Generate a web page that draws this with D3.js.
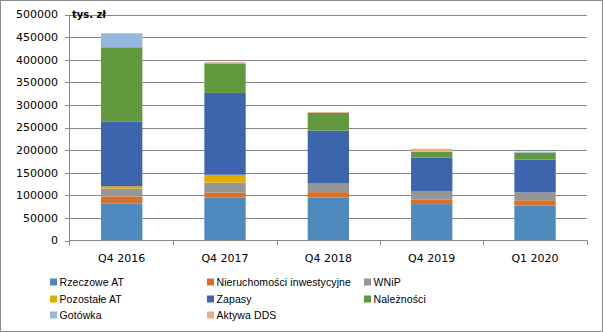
<!DOCTYPE html>
<html>
<head>
<meta charset="utf-8">
<script src="https://cdn.jsdelivr.net/npm/d3@7"></script>
<style>
  html, body { margin: 0; padding: 0; background: #fff; }
  svg { display: block; font-family: "DejaVu Sans", Verdana, sans-serif; }
</style>
</head>
<body>
<svg id="chart" width="603" height="332"></svg>
<script>
// kategorie (okresy) i serie danych, tys. zł
const periods = ['Q4 2016', 'Q4 2017', 'Q4 2018', 'Q4 2019', 'Q1 2020'];
const seriesNames = ['Rzeczowe AT', 'Nieruchomości inwestycyjne', 'WNiP', 'Pozostałe AT',
  'Zapasy', 'Należności', 'Gotówka', 'Aktywa DDS'];
const rzeczoweAT   = [82000, 95000, 95000, 80500, 77000];
const nieruchomosci = [15500, 11000, 12000, 10500, 12000];
const wnip         = [17500, 22000, 19000, 17500, 17500];
const pozostaleAT  = [5000, 17500, 0, 0, 0];
const zapasy       = [142500, 181000, 117000, 75000, 72500];
const naleznosci   = [165000, 64000, 39500, 13000, 15500];
const gotowka      = [31000, 3000, 0, 0, 2000];
const aktywaDDS    = [0, 1500, 2000, 6500, 0];
const yTicks = [0, 50000, 100000, 150000, 200000, 250000, 300000, 350000, 400000, 450000, 500000];

const colors = ['#4f8abe', '#d6702b', '#969696', '#e5ac00', '#3c65ad', '#62993e', '#95b8e0', '#f0a88a'];
const seriesValues = [rzeczoweAT, nieruchomosci, wnip, pozostaleAT, zapasy, naleznosci, gotowka, aktywaDDS];

const rows = periods.map((p, i) => {
  const r = { period: p };
  seriesNames.forEach((n, k) => { r[n] = seriesValues[k][i]; });
  return r;
});

const svg = d3.select('#chart');
const W = 603, H = 332;
const GRID = '#878787';

// ramka wykresu
svg.append('rect').attr('x', 0.5).attr('y', 0.5).attr('width', W - 1).attr('height', H - 1)
  .attr('fill', '#fff').attr('stroke', '#8c8c8c');

const x = d3.scaleBand().domain(periods).range([70, 586.7]).paddingInner(0.6).paddingOuter(0.3);
const y = d3.scaleLinear().domain([0, 500000]).range([240.5, 14.5]);

// siatka
svg.append('g').selectAll('line').data(yTicks.filter(t => t > 0)).join('line')
  .attr('x1', 70).attr('x2', 586.7)
  .attr('y1', d => Math.round(y(d)) + 0.5).attr('y2', d => Math.round(y(d)) + 0.5)
  .attr('stroke', GRID).attr('stroke-width', 1);

// słupki
const stack = d3.stack().keys(seriesNames)(rows);
svg.append('g').selectAll('g').data(stack).join('g')
  .attr('fill', (d, i) => colors[i])
  .selectAll('rect').data(d => d).join('rect')
  .attr('x', d => x(d.data.period))
  .attr('width', x.bandwidth())
  .attr('y', d => y(d[1]))
  .attr('height', d => Math.max(0, y(d[0]) - y(d[1])));

// oś Y
const yAxis = svg.append('g');
yAxis.append('line').attr('x1', 69.5).attr('x2', 69.5).attr('y1', y(500000)).attr('y2', y(0) + 5)
  .attr('stroke', GRID);
yAxis.selectAll('line.tick').data(yTicks).join('line').attr('class', 'tick')
  .attr('x1', 65).attr('x2', 70)
  .attr('y1', d => Math.round(y(d)) + 0.5).attr('y2', d => Math.round(y(d)) + 0.5)
  .attr('stroke', GRID);
yAxis.selectAll('text').data(yTicks).join('text')
  .attr('x', 58).attr('y', d => y(d)).attr('dy', '0.36em')
  .attr('text-anchor', 'end').attr('font-size', 11).attr('fill', '#000')
  .text(d => d);

// oś X
const xAxis = svg.append('g');
xAxis.append('line').attr('x1', 69.5).attr('x2', 587).attr('y1', 240.5).attr('y2', 240.5).attr('stroke', GRID);
xAxis.selectAll('line.tick').data(periods).join('line').attr('class', 'tick')
  .attr('x1', p => Math.round(x(p) + x.bandwidth() / 2 + x.step() / 2) + 0.5)
  .attr('x2', p => Math.round(x(p) + x.bandwidth() / 2 + x.step() / 2) + 0.5)
  .attr('y1', 240.5).attr('y2', 245).attr('stroke', GRID);
xAxis.selectAll('text').data(periods).join('text')
  .attr('x', p => x(p) + x.bandwidth() / 2).attr('y', 262)
  .attr('text-anchor', 'middle').attr('font-size', 11).attr('fill', '#000')
  .text(p => p);

// jednostka
svg.append('text').attr('x', 72).attr('y', 18).attr('font-size', 10).attr('font-weight', 'bold')
  .text('tys. zł');

// legenda
const colX = [50, 207, 364];
const rowY = [282, 299, 315];
const leg = svg.append('g').selectAll('g').data(seriesNames).join('g')
  .attr('transform', (d, i) => `translate(${colX[i % 3]},${rowY[Math.floor(i / 3)]})`);
leg.append('rect').attr('x', 0).attr('y', -3.5).attr('width', 7).attr('height', 7)
  .attr('fill', (d, i) => colors[i]);
leg.append('text').attr('x', 9.5).attr('y', 0).attr('dy', '0.36em')
  .attr('font-family', '"Liberation Sans", Arial, sans-serif')
  .attr('font-size', 10.5).attr('letter-spacing', 0.1).attr('fill', '#000').text(d => d);
</script>
</body>
</html>
